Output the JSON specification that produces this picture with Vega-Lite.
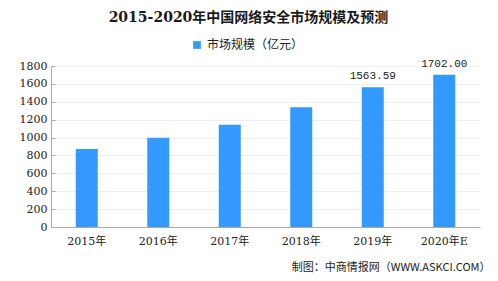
{
  "$schema": "https://vega.github.io/schema/vega-lite/v6.json",
  "autosize": "none",
  "width": 429,
  "height": 161,
  "padding": {"left": 51, "top": 66, "right": 18, "bottom": 54},
  "background": "white",
  "title": {
    "text": "2015-2020年中国网络安全市场规模及预测",
    "font": "DejaVu Serif, Noto Sans CJK SC",
    "fontSize": 14,
    "fontWeight": "bold",
    "color": "#1a1a1a",
    "anchor": "middle",
    "dx": -17,
    "offset": 14
  },
  "config": {
    "view": {"stroke": null},
    "font": "DejaVu Serif, Noto Sans CJK SC"
  },
  "data": {
    "values": [
      {"year": "2015年", "value": 872, "label": ""},
      {"year": "2016年", "value": 998, "label": ""},
      {"year": "2017年", "value": 1143, "label": ""},
      {"year": "2018年", "value": 1338, "label": ""},
      {"year": "2019年", "value": 1563.59, "label": "1563.59"},
      {"year": "2020年E", "value": 1702.0, "label": "1702.00"}
    ]
  },
  "encoding": {
    "x": {
      "field": "year",
      "type": "nominal",
      "sort": null,
      "scale": {"paddingInner": 0, "paddingOuter": 0},
      "axis": {
        "labelAngle": 0,
        "ticks": false,
        "domainColor": "#aaaaaa",
        "labelFont": "DejaVu Serif, Noto Sans CJK SC",
        "labelFontSize": 11,
        "labelColor": "#222222",
        "labelPadding": 8,
        "title": "制图：中商情报网（WWW.ASKCI.COM）",
        "titleFont": "Noto Sans CJK SC",
        "titleFontSize": 11,
        "titleFontWeight": "normal",
        "titleColor": "#222222",
        "titleAlign": "right",
        "titleBaseline": "middle",
        "titleX": 439,
        "titleY": 40
      }
    },
    "y": {
      "field": "value",
      "type": "quantitative",
      "scale": {"domain": [0, 1800]},
      "axis": {
        "values": [0, 200, 400, 600, 800, 1000, 1200, 1400, 1600, 1800],
        "format": "d",
        "title": null,
        "grid": true,
        "gridColor": "#eeeeee",
        "domainColor": "#aaaaaa",
        "tickColor": "#aaaaaa",
        "tickSize": -4,
        "labelFont": "DejaVu Serif",
        "labelFontSize": 11,
        "labelColor": "#222222",
        "labelPadding": 8
      }
    }
  },
  "layer": [
    {
      "mark": {"type": "bar", "width": 22, "color": "#3399ff"},
      "encoding": {
        "color": {
          "datum": "市场规模（亿元）",
          "scale": {"range": ["#3399ff"]},
          "legend": {
            "title": null,
            "orient": "none",
            "legendX": 140,
            "legendY": -27,
            "symbolType": "square",
            "symbolSize": 60,
            "labelFont": "Noto Sans CJK SC",
            "labelFontSize": 12,
            "labelColor": "#222222"
          }
        }
      }
    },
    {
      "mark": {
        "type": "text",
        "baseline": "bottom",
        "dy": -6,
        "font": "Liberation Mono",
        "fontSize": 11,
        "color": "#222222"
      },
      "encoding": {"text": {"field": "label"}}
    }
  ]
}
